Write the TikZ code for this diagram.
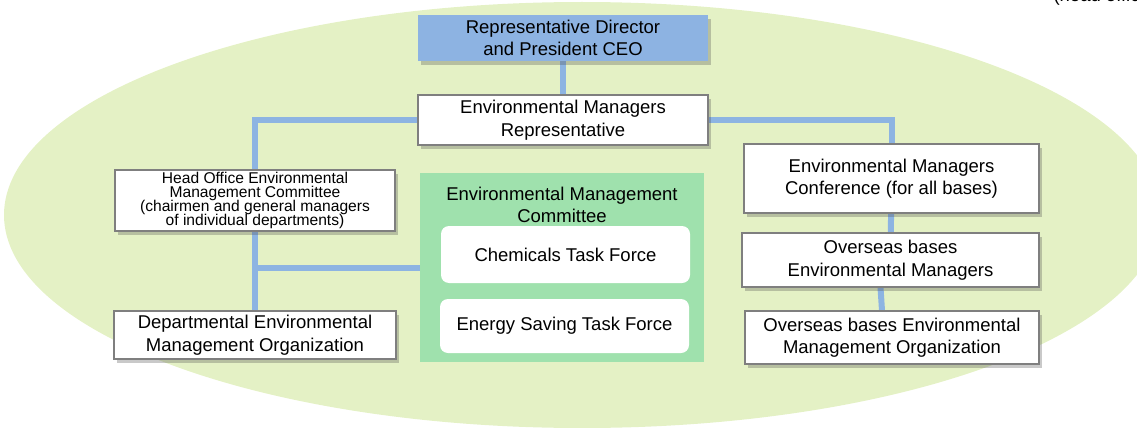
\documentclass[tikz,border=0pt]{standalone}
\usepackage{fontspec}
\setmainfont{Liberation Sans}
\usetikzlibrary{backgrounds,
    shadows}

\definecolor{fieldgreen}{HTML}{E4F1C5}
\definecolor{committeegreen}{HTML}{9FE1AD}
\definecolor{ceoblue}{HTML}{8DB3E2}
\definecolor{linkblue}{HTML}{8DB4E2}
\definecolor{boxgray}{HTML}{7F7F7F}

\newcommand{\tightfont}{\fontsize{15.6}{13.8}\selectfont\lineskiplimit-20pt\relax}

\tikzset{
    boxshadow/.style={drop shadow={shadow xshift=3pt,shadow yshift=-4pt,opacity=.3,fill=black!70}},
    orgbox/.style={draw=boxgray,line width=1.2pt,fill=white,align=center,inner sep=0pt,boxshadow},
    ceobox/.style={fill=ceoblue,align=center,inner sep=0pt,boxshadow},
    taskbox/.style={fill=white,rounded corners=8pt,minimum width=249,inner sep=0pt},
    link/.style={draw=linkblue,line width=6pt}
}

\begin{document}
\begin{tikzpicture}[x=1pt,y=-1pt,font=\fontsize{18.5}{22.5}\selectfont]
    \path[use as bounding box,clip] (0,0) rectangle (1137,428);
    \begin{scope}[on background layer]
        \fill[fieldgreen] (582,215) ellipse [x radius=578,y radius=213];
    \end{scope}

    \node[anchor=base west] (headoffice) at (1050,2) {(head office)};

    \node[ceobox,minimum width=290,minimum height=46] (ceo) at (563,38) {Representative Director\\and President CEO};
    \node[orgbox,minimum width=290,minimum height=50] (emr) at (563,120) {Environmental Managers\\Representative};

    \node[orgbox,minimum width=280,minimum height=61,font=\tightfont] (head) at (255,200.5)
        {Head Office Environmental\\Management Committee\\(chairmen and general managers\\of individual departments)};
    \node[orgbox,minimum width=282,minimum height=48] (dept) at (255,335) {Departmental Environmental\\Management Organization};

    \node[fill=committeegreen,minimum width=284,minimum height=189] (emc) at (562,267.5) {};
    \node[align=center] (emctitle) at (562,205) {Environmental Management\\Committee};
    \node[taskbox,minimum height=57] (chem) at (565.5,254.5) {Chemicals Task Force};
    \node[taskbox,minimum height=54] (energy) at (564.5,326) {Energy Saving Task Force};

    \node[orgbox,minimum width=295,minimum height=69] (conf) at (891.5,178.5) {Environmental Managers\\Conference (for all bases)};
    \node[orgbox,minimum width=297,minimum height=54] (osm) at (890.5,260) {Overseas bases\\Environmental Managers};
    \node[orgbox,minimum width=294,minimum height=53] (osorg) at (892,337.5) {Overseas bases Environmental\\Management Organization};

    % connectors behind the boxes
    \begin{scope}[on background layer]
        \draw[link] (ceo) -- (emr);
        \draw[link] (emr.west) -| (head.north);
        \draw[link] (emr.east) -| (conf.north);
        \draw[link] (head) -- (dept);
        \draw[link] (emc.west) -- (emc.west -| head.south);
        \draw[link] (conf) -- (osm);
        \draw[link] ([xshift=-10pt]osm.south) -- ([xshift=-10pt]osorg.north);
    \end{scope}
\end{tikzpicture}
\end{document}
